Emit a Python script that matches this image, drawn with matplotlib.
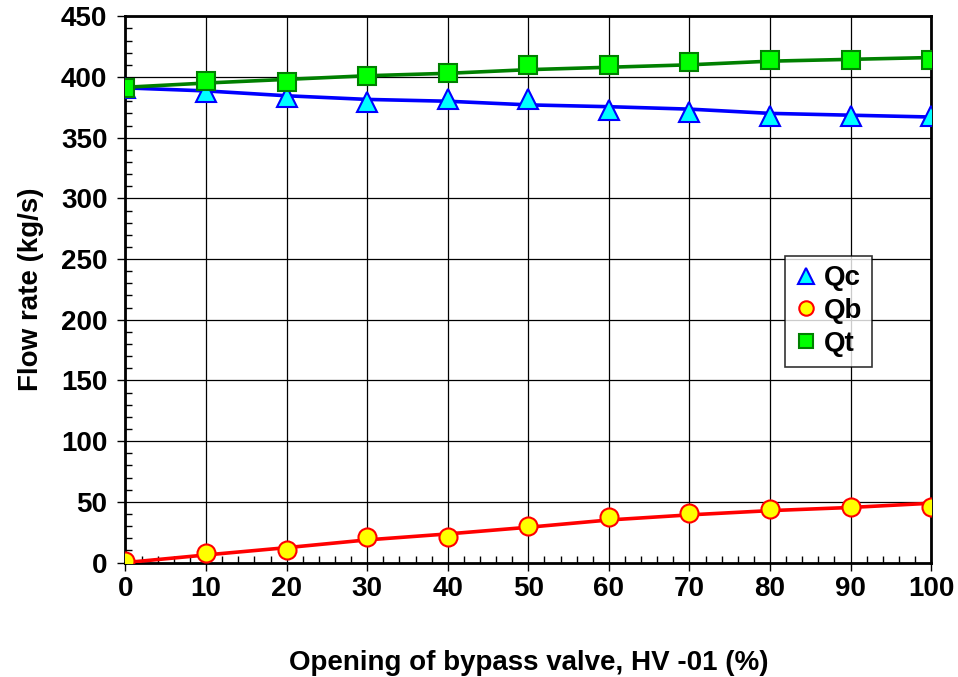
import matplotlib
matplotlib.use('Agg')
import matplotlib.pyplot as plt
from matplotlib.ticker import MultipleLocator

plt.rcParams['font.family'] = ['Liberation Sans', 'DejaVu Sans']
plt.rcParams['font.weight'] = 'bold'

# opening of bypass valve (%)
opening = [0, 10, 20, 30, 40, 50, 60, 70, 80, 90, 100]

# measured points
qc_pts = [391, 388, 383.5, 379.5, 381.5, 381.5, 373, 371.5, 368, 368, 367.5]
qb_pts = [1, 7.5, 10, 21, 21, 30.5, 37.5, 40.5, 44, 46, 46]
qt_pts = [391, 397, 396, 401, 403, 410, 410, 412, 414, 414, 414]

# trend lines
qc_fit = [391, 388.5, 384.5, 381.5, 380, 377, 375.5, 373.5, 370, 368.5, 367]
qb_fit = [0, 6.3, 12.3, 18.7, 23.6, 29.1, 35.1, 39.3, 42.8, 45.4, 48.9]
qt_fit = [391.5, 395, 398, 401, 403, 406, 408, 410, 413, 414.5, 416]

fig = plt.figure(figsize=(9.58, 6.77), dpi=100)
ax = fig.add_axes([0.131, 0.169, 0.841, 0.807])

ax.plot(opening, qc_fit, color='#0000FF', lw=2.6, zorder=3)
ax.plot(opening, qb_fit, color='#FF0000', lw=2.6, zorder=3)
ax.plot(opening, qt_fit, color='#008000', lw=2.6, zorder=3)

ax.plot(opening, qc_pts, ls='none', marker='^', ms=14, mfc='#00FFFF', mec='#0000FF', mew=1.5, label='Qc', zorder=4)
ax.plot(opening, qb_pts, ls='none', marker='o', ms=13, mfc='#FFFF00', mec='#FF0000', mew=1.5, label='Qb', zorder=4)
ax.plot(opening, qt_pts, ls='none', marker='s', ms=12.5, mfc='#00FF00', mec='#008000', mew=1.5, label='Qt', zorder=5)

ax.set_xlim(0, 100)
ax.set_ylim(0, 450)
ax.xaxis.set_major_locator(MultipleLocator(10))
ax.xaxis.set_minor_locator(MultipleLocator(2))
ax.yaxis.set_major_locator(MultipleLocator(50))
ax.yaxis.set_minor_locator(MultipleLocator(10))

ax.grid(which='major', color='black', lw=0.9)
ax.set_axisbelow(True)
for s in ax.spines.values():
    s.set_linewidth(2)

ax.tick_params(axis='both', which='major', direction='out', length=6, width=1, labelsize=20)
ax.tick_params(axis='x', which='major', pad=4)
ax.tick_params(axis='y', which='major', pad=7)
ax.tick_params(axis='both', which='minor', direction='in', length=5, width=1)

ax.set_xlabel('Opening of bypass valve, HV -01 (%)', fontsize=20, fontweight='bold', labelpad=34)
ax.set_ylabel('Flow rate (kg/s)', fontsize=20, fontweight='bold', labelpad=12)

leg = ax.legend(loc='upper left', bbox_to_anchor=(0.819, 0.562), frameon=True, fancybox=False,
                edgecolor='black', fontsize=20, markerscale=0.8, handlelength=0.8,
                handletextpad=0.25, borderpad=0.35, labelspacing=0.25, borderaxespad=0)
leg.get_frame().set_linewidth(1.2)
for t in leg.get_texts():
    t.set_fontweight('bold')

fig.savefig('out.png', dpi=100)
